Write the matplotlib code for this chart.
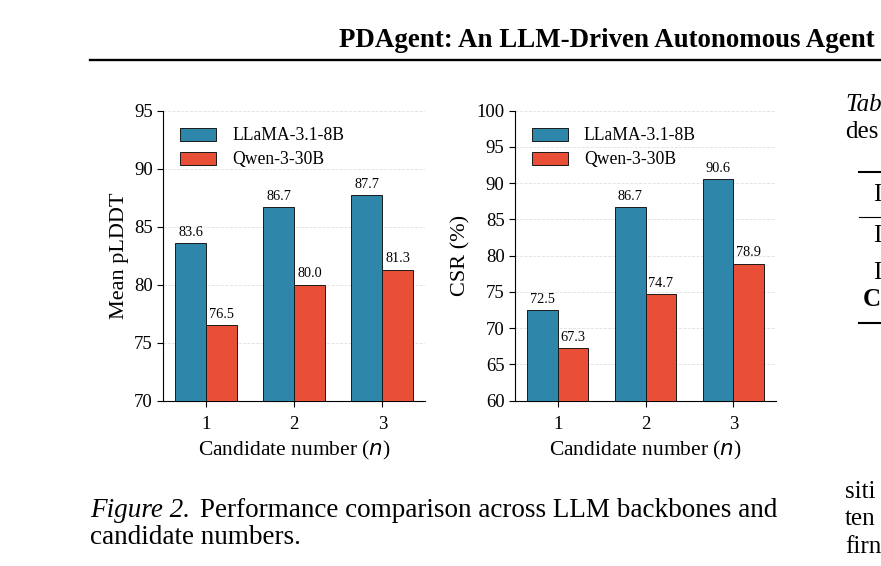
import matplotlib
matplotlib.use("Agg")
import matplotlib.pyplot as plt
import numpy as np

# ------------------------------------------------------------------ data
candidates = [1, 2, 3]
models = ["LLaMA-3.1-8B", "Qwen-3-30B"]
plddt_llama = [83.6, 86.7, 87.7]
plddt_qwen = [76.5, 80.0, 81.3]
csr_llama = [72.5, 86.7, 90.6]
csr_qwen = [67.3, 74.7, 78.9]

BLUE = "#2E86AB"
RED = "#E94F37"
W = 0.35

plt.rcParams["font.family"] = ["Liberation Serif", "DejaVu Serif"]
plt.rcParams["mathtext.fontset"] = "dejavusans"

fig = plt.figure(figsize=(8.81, 5.66), dpi=100)


def px(x, y):
    """pixel (from top-left) -> figure fraction"""
    return x / 881.0, 1.0 - y / 566.0


def panel(rect, a, b, ylim, yticks, ylabel):
    ax = fig.add_axes(rect)
    x = np.array(candidates, dtype=float)
    ba = ax.bar(x - W / 2, a, W, color=BLUE, edgecolor="#1a1a1a",
                linewidth=0.7, label=models[0], zorder=3)
    bb = ax.bar(x + W / 2, b, W, color=RED, edgecolor="#1a1a1a",
                linewidth=0.7, label=models[1], zorder=3)
    for bars in (ba, bb):
        for r in bars:
            ax.annotate(f"{r.get_height():.1f}",
                        (r.get_x() + r.get_width() / 2, r.get_height()),
                        xytext=(0, 3), textcoords="offset points",
                        ha="center", va="bottom", fontsize=10.3)
    ax.set_ylim(*ylim)
    ax.set_yticks(yticks)
    ax.set_xticks(candidates)
    ax.tick_params(labelsize=13.5, length=4, width=0.8)
    ax.tick_params(axis="x", pad=7)
    ax.set_xlabel("Candidate number ($n$)", fontsize=15.5, labelpad=4)
    ax.set_ylabel(ylabel, fontsize=16, labelpad=4)
    ax.grid(axis="y", linestyle="--", color="#cccccc", alpha=0.6,
            linewidth=0.6, zorder=0)
    for s in ("top", "right"):
        ax.spines[s].set_visible(False)
    ax.legend(loc="upper left", frameon=False, fontsize=12.7,
              handlelength=2.05, handleheight=0.72, borderaxespad=0.55,
              labelspacing=0.4, handletextpad=0.9)
    return ax


panel([0.1854, 0.2921, 0.2970, 0.5124], plddt_llama, plddt_qwen,
      (70, 95), np.arange(70, 96, 5), "Mean pLDDT")
panel([0.5846, 0.2921, 0.2963, 0.5124], csr_llama, csr_qwen,
      (60, 100), np.arange(60, 101, 5), "CSR (%)")

# ---------------------------------------------------------- page context
fig.text(*px(875, 47), "PDAgent: An LLM-Driven Autonomous Agent", ha="right",
         va="baseline", fontsize=19.4, fontweight="bold")
fig.add_artist(plt.Line2D([90 / 881, 1.0], [px(0, 60)[1]] * 2,
                          color="black", lw=1.7))

CAP = 19.5
x, y = px(90, 517)
fig.text(x, y, "Figure 2.", fontsize=CAP, style="italic", va="baseline")
fig.text(px(200, 0)[0], y, "Performance comparison across LLM backbones and",
         fontsize=CAP, va="baseline")
fig.text(x, px(0, 544)[1], "candidate numbers.", fontsize=CAP, va="baseline")

# right column (cut off at page edge)
fig.text(*px(845, 111), "Tab", fontsize=18, style="italic", va="baseline")
fig.text(*px(845, 138), "des", fontsize=18, va="baseline")
for yy, lw in ((172, 1.5), (217, 0.8), (323, 1.5)):
    fig.add_artist(plt.Line2D([859 / 881, 1.0], [px(0, yy)[1]] * 2,
                              color="black", lw=lw))
for xx, yy, s, fw in ((873, 201, "I", "normal"), (873, 242, "I", "normal"),
                      (873, 279, "I", "normal"), (863, 306, "C", "bold")):
    fig.text(*px(xx, yy), s, fontsize=18, fontweight=fw, va="baseline")
for yy, s in ((498, "siti"), (525, "ten"), (553, "firn")):
    fig.text(*px(845, yy), s, fontsize=18, va="baseline")

fig.savefig("out.png", dpi=100)
